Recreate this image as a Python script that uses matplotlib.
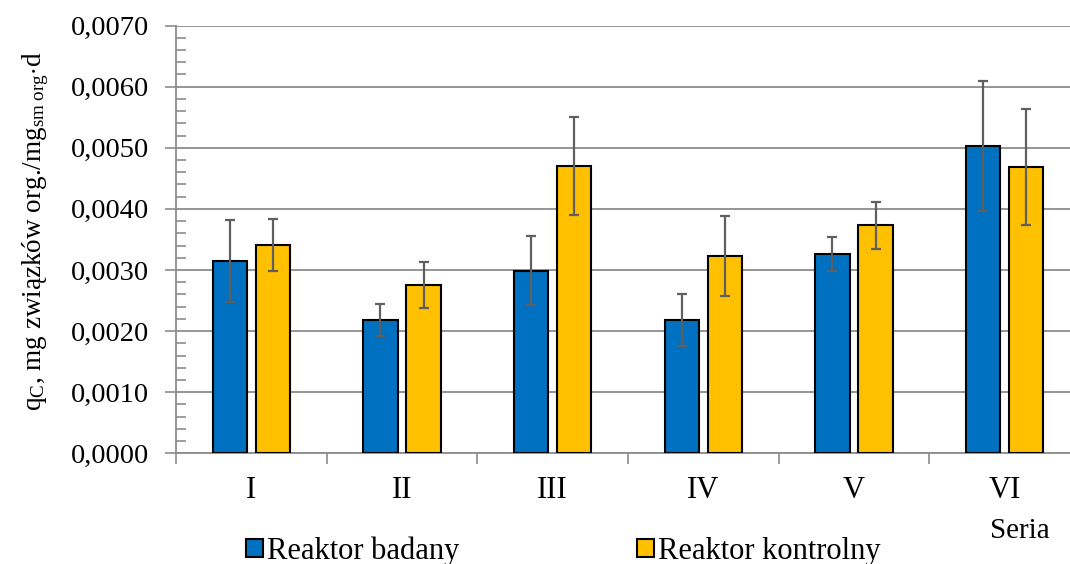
import matplotlib
matplotlib.use("Agg")
import matplotlib.pyplot as plt
import numpy as np

plt.rcParams['font.family'] = ['Liberation Serif', 'DejaVu Serif']
plt.rcParams['mathtext.fontset'] = 'custom'
plt.rcParams['mathtext.rm'] = 'Liberation Serif'
plt.rcParams['mathtext.it'] = 'Liberation Serif:italic'

serie = ['I', 'II', 'III', 'IV', 'V', 'VI']
badany = [0.00315, 0.00218, 0.00299, 0.00218, 0.00326, 0.00503]
badany_err = [0.00067, 0.00026, 0.00056, 0.00043, 0.00028, 0.00106]
kontrolny = [0.00341, 0.00275, 0.00470, 0.00323, 0.00373, 0.00468]
kontrolny_err = [0.00043, 0.00038, 0.00080, 0.00066, 0.00038, 0.00095]

fig = plt.figure(figsize=(10.7, 5.64), dpi=100)
ax = fig.add_axes([176/1070, 110.7/564, 904/1070, 427.7/564])

x = np.arange(len(serie))
w = 0.229
off = 0.143
ekw = dict(ecolor='#5f5f5f', elinewidth=1.6, capsize=3.8, capthick=1.6)
ax.bar(x - off, badany, w, yerr=badany_err, color='#0070C0', edgecolor='black',
       linewidth=1.5, error_kw=ekw, label='Reaktor badany', zorder=3)
ax.bar(x + off, kontrolny, w, yerr=kontrolny_err, color='#FFC000', edgecolor='black',
       linewidth=1.5, error_kw=ekw, label='Reaktor kontrolny', zorder=3)

ax.set_xlim(-0.5, len(serie) - 0.5)
ax.set_ylim(0, 0.007)
ax.set_yticks(np.arange(0, 0.0071, 0.001))
ax.set_yticklabels([('%.4f' % v).replace('.', ',') for v in np.arange(0, 0.0071, 0.001)])
ax.set_yticks(np.arange(0, 0.00701, 0.0002), minor=True)
ax.tick_params(axis='y', which='major', direction='out', length=8, width=1.2,
               color='#8c8c8c', labelsize=20.5, pad=11.5)
ax.tick_params(axis='y', which='minor', direction='in', length=7, width=1.2, color='#8c8c8c')

ax.set_xticks(np.arange(-0.5, len(serie) - 0.4, 1))
ax.set_xticklabels([])
ax.set_xticks(x, minor=True)
ax.set_xticklabels(serie, minor=True)
ax.tick_params(axis='x', which='major', direction='out', length=8, width=1.2, color='#8c8c8c')
ax.tick_params(axis='x', which='minor', length=0, labelsize=22, pad=16)

ax.grid(axis='y', which='major', color='#8c8c8c', linewidth=1.3, zorder=0)
for s in ['top', 'right']:
    ax.spines[s].set_visible(False)
for s in ['left', 'bottom']:
    ax.spines[s].set_color('#8c8c8c')
    ax.spines[s].set_linewidth(1.3)

ax.set_ylabel(r'q$_\mathrm{C}$, mg związków org./mg$_\mathrm{sm\ org}$$\cdot$d', fontsize=19.5)
ax.yaxis.set_label_coords(-0.138, 0.52)

fig.text(1020/1070, 1 - 531/564, 'Seria', fontsize=21, ha='center', va='center')

fig.legend(loc='center left', bbox_to_anchor=(246/1070, 1 - 551/564), ncol=2,
           frameon=False, fontsize=22, handlelength=0.56, handleheight=0.56,
           handletextpad=0.13, columnspacing=5.8, borderpad=0, borderaxespad=0)

fig.savefig('out.png', dpi=100)
